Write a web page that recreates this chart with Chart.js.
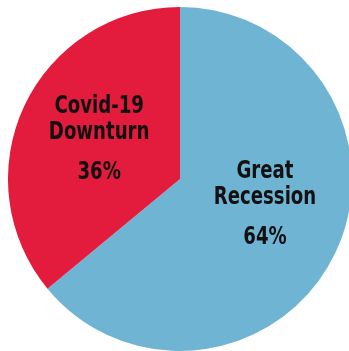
<!DOCTYPE html>
<html>
<head>
<meta charset="utf-8">
<script src="https://cdn.jsdelivr.net/npm/chart.js@4"></script>
<style>
  html, body { margin: 0; padding: 0; background: #ffffff; overflow: hidden; }
  body { width: 349px; height: 351px; position: relative; }
  #wrap { position: absolute; left: 8px; top: 7px; width: 344px; height: 344px; }
</style>
</head>
<body>
<div id="wrap"><canvas id="pie"></canvas></div>
<script>
// Share of job losses by downturn
const categories = ['Great Recession', 'Covid-19 Downturn'];
const shares = [64, 36];
const labelLines = [['Great', 'Recession'], ['Covid-19', 'Downturn']];
const sliceColors = ['#70B4D4', '#E31B3C'];

// Text block anchor for each slice, as offsets from the pie centre in units of the radius
const labelAnchors = [[0.494, -0.040], [-0.47, -0.418]];

const sliceLabels = {
  id: 'sliceLabels',
  afterDatasetsDraw(chart) {
    const { ctx } = chart;
    const meta = chart.getDatasetMeta(0);
    const arc0 = meta.data[0];
    const cx = arc0.x, cy = arc0.y, r = arc0.outerRadius;
    const squeeze = 0.84; // narrow the lettering into a condensed face
    ctx.save();
    ctx.fillStyle = '#111111';
    ctx.textAlign = 'center';
    ctx.textBaseline = 'middle';
    ctx.font = 'bold 24px "DejaVu Sans Condensed", "DejaVu Sans", sans-serif';
    meta.data.forEach((arc, i) => {
      const x = cx + labelAnchors[i][0] * r;
      const y = cy + labelAnchors[i][1] * r;
      const put = (txt, yy) => {
        ctx.save();
        ctx.translate(x, yy);
        ctx.scale(squeeze, 1);
        ctx.fillText(txt, 0, 0);
        ctx.restore();
      };
      labelLines[i].forEach((line, j) => put(line, y + j * 26));
      put(shares[i] + '%', y + 66);
    });
    ctx.restore();
  }
};

new Chart(document.getElementById('pie'), {
  type: 'pie',
  data: {
    labels: categories,
    datasets: [{
      data: shares,
      backgroundColor: sliceColors,
      borderWidth: 0
    }]
  },
  options: {
    responsive: true,
    maintainAspectRatio: false,
    animation: false,
    layout: { padding: 0 },
    plugins: { legend: { display: false }, tooltip: { enabled: false } }
  },
  plugins: [sliceLabels]
});
</script>
</body>
</html>
